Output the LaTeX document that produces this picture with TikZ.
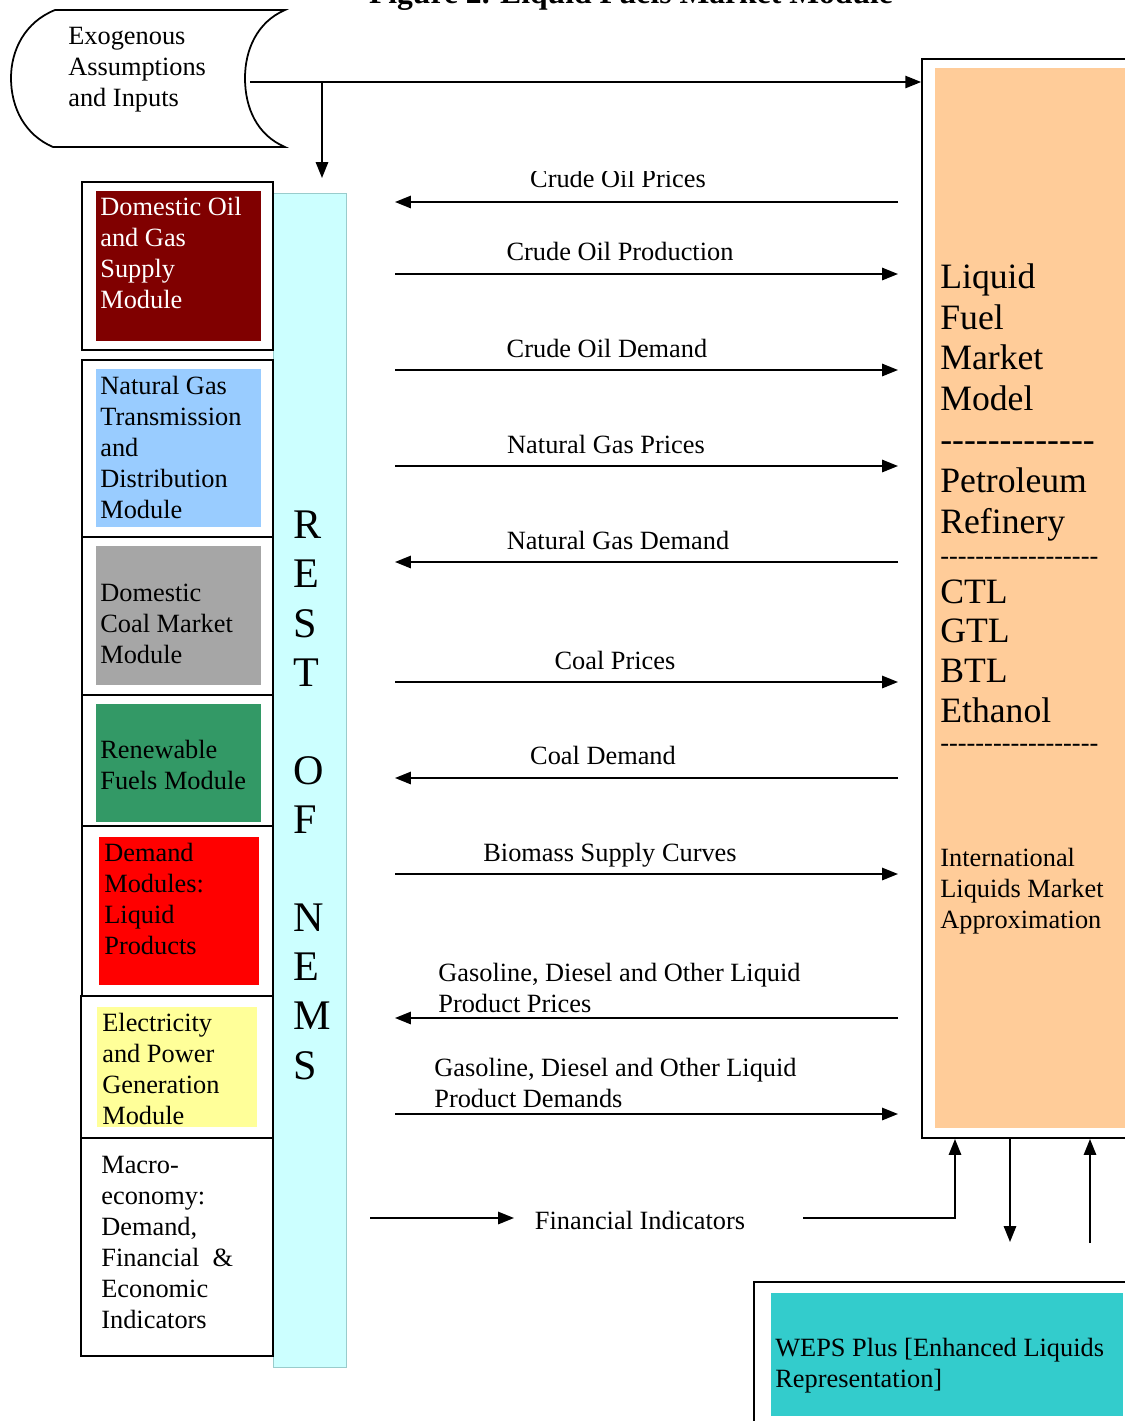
\documentclass[tikz,border=0pt]{standalone}
\usepackage{fontspec}
\setmainfont{Liberation Serif}
\usetikzlibrary{arrows.meta,fit}
\definecolor{oilred}{HTML}{800000}
\definecolor{gasblue}{HTML}{99CCFF}
\definecolor{coalgray}{HTML}{A6A6A6}
\definecolor{renewgreen}{HTML}{339966}
\definecolor{demandred}{HTML}{FF0000}
\definecolor{elecyellow}{HTML}{FFFF99}
\definecolor{restcyan}{HTML}{CCFFFF}
\definecolor{restedge}{HTML}{99CCCC}
\definecolor{lfmmpeach}{HTML}{FFCC99}
\definecolor{wepsteal}{HTML}{33CCCC}
\newcommand{\lblfont}{\fontsize{15}{17.6}\selectfont}
\newcommand{\bigfont}{\fontsize{20.3}{23.2}\selectfont}
\newcommand{\techfont}{\fontsize{20.3}{22.5}\selectfont}
\newcommand{\restfont}{\fontsize{24}{27.95}\selectfont}
\newcommand{\dsh}{\mbox{-}}
\newcommand{\dashrow}[1]{\foreach \k in {1,...,#1}{\dsh}}
\begin{document}
\begin{tikzpicture}[x=0.02cm,y=-0.02cm,
  frame/.style={draw=black,line width=1pt,inner sep=0pt},
  panel/.style={inner sep=0pt,draw=none},
  txt/.style={anchor=base west,inner sep=0pt,align=left,font=\lblfont},
  lbl/.style={anchor=base,inner sep=0pt,font=\lblfont},
  arr/.style={-{Triangle[length=9pt,width=7pt]},line width=1pt},
  plain/.style={line width=1pt}]
\useasboundingbox (0,0) rectangle (1125,1421);
% title (cut off at top)
\node[anchor=base,inner sep=0pt,font=\bfseries\fontsize{18}{21}\selectfont] (title) at (631,3) {Figure 2. Liquid Fuels Market Module};
% exogenous
\draw[line width=1pt] (55,10) -- (285,10)
  .. controls (257,22) and (245,50) .. (245,78)
  .. controls (245,108) and (257,135) .. (285,147)
  -- (53,147)
  .. controls (25,135) and (11,108) .. (11,78)
  .. controls (11,50) and (25,22) .. (55,10) -- cycle;
\node[txt] (exo) at (68,106) {Exogenous\\Assumptions\\and Inputs};
\coordinate (exo-out) at (250,82);
\coordinate (exo-branch) at (322,82);
\coordinate (rest-in) at (322,178);
% REST OF NEMS bar
\node[fit={(273,193) (346,1367)},panel,fill=restcyan,draw=restedge,line width=0.4pt] (rest) {};
\node[anchor=base west,inner sep=0pt,align=left,font=\restfont] (resttxt) at (293,1079) {R\\E\\S\\T\\ \\O\\F\\ \\N\\E\\M\\S};
% left modules
\node[fit={(82,182) (273,350)},frame] (box1) {};
\node[fit={(96,191) (261,341)},panel,fill=oilred] (oil) {};
\node[txt,text=white] (oiltxt) at (100,308) {Domestic Oil\\and Gas\\Supply\\Module};
\node[fit={(82,360) (273,537)},frame] (box2) {};
\node[fit={(96,369) (261,527)},panel,fill=gasblue] (gas) {};
\node[txt] (gastxt) at (100,518) {Natural Gas\\Transmission\\and\\Distribution\\Module};
\node[fit={(82,537) (273,695)},frame] (box3) {};
\node[fit={(96,546) (261,685)},panel,fill=coalgray] (coal) {};
\node[txt] (coaltxt) at (100,663) {Domestic\\Coal Market\\Module};
\node[fit={(82,695) (273,826)},frame] (box4) {};
\node[fit={(96,704) (261,822)},panel,fill=renewgreen] (renew) {};
\node[txt] (renewtxt) at (100,789) {Renewable\\Fuels Module};
\node[fit={(82,826) (273,996)},frame] (box5) {};
\node[fit={(99,837) (259,985)},panel,fill=demandred] (dem) {};
\node[txt] (demtxt) at (104,954) {Demand\\Modules:\\Liquid\\Products};
\node[fit={(81,996) (273,1138)},frame] (box6) {};
\node[fit={(97,1007) (257,1127)},panel,fill=elecyellow] (elec) {};
\node[txt] (electxt) at (102,1124) {Electricity\\and Power\\Generation\\Module};
\node[fit={(81,1138) (273,1356)},frame] (box7) {};
\node[txt] (macrotxt) at (101,1328) {Macro-\\economy:\\Demand,\\Financial~~\&\\Economic\\Indicators};
% LFMM
\node[fit={(922,59) (1145,1138)},frame] (lfmm) {};
\node[fit={(935,68) (1140,1128)},panel,fill=lfmmpeach] (peach) {};
\node[anchor=base west,inner sep=0pt,align=left,font=\bigfont] (lfmmtitle) at (940,533) {Liquid\\Fuel\\Market\\Model\\\dashrow{13}\\Petroleum\\Refinery};
\node[txt] (dash1) at (940,564) {\dashrow{18}};
\node[anchor=base west,inner sep=0pt,align=left,font=\techfont] (lfmmtech) at (940,722) {CTL\\GTL\\BTL\\Ethanol};
\node[txt] (dash2) at (940,751) {\dashrow{18}};
\node[txt] (intl) at (940,928) {International\\Liquids Market\\Approximation};
% WEPS
\node[fit={(754,1282) (1145,1440)},frame] (wepsframe) {};
\node[fit={(771,1293) (1123,1416)},panel,fill=wepsteal] (weps) {};
\node[txt] (wepstxt) at (775,1387) {WEPS Plus [Enhanced Liquids\\Representation]};
% exogenous arrows
\draw[arr] (exo-out) -- (exo-out -| lfmm.west);
\draw[arr] (exo-branch) -- (rest-in);
% flow arrows
\foreach \n/\y in {a/202,b/274,c/370,d/466,e/562,f/682,g/778,h/874,i/1018,j/1114}{
  \coordinate (\n-l) at (395,\y);
  \coordinate (\n-r) at (898,\y);
}
\begin{scope}
\clip (450,171) rectangle (800,200);
\node[lbl] (l-a) at (618,187) {Crude Oil Prices};
\end{scope}
\draw[arr] (a-r) -- (a-l);
\node[lbl] (l-b) at (620,260) {Crude Oil Production};
\draw[arr] (b-l) -- (b-r);
\node[lbl] (l-c) at (607,357) {Crude Oil Demand};
\draw[arr] (c-l) -- (c-r);
\node[lbl] (l-d) at (606,453) {Natural Gas Prices};
\draw[arr] (d-l) -- (d-r);
\node[lbl] (l-e) at (618,549) {Natural Gas Demand};
\draw[arr] (e-r) -- (e-l);
\node[lbl] (l-f) at (615,669) {Coal Prices};
\draw[arr] (f-l) -- (f-r);
\node[lbl] (l-g) at (603,764) {Coal Demand};
\draw[arr] (g-r) -- (g-l);
\node[lbl] (l-h) at (610,861) {Biomass Supply Curves};
\draw[arr] (h-l) -- (h-r);
\node[txt] (l-i) at (438,1012) {Gasoline, Diesel and Other Liquid\\Product Prices};
\draw[arr] (i-r) -- (i-l);
\node[txt] (l-j) at (434,1107) {Gasoline, Diesel and Other Liquid\\Product Demands};
\draw[arr] (j-l) -- (j-r);
% financial indicators
\coordinate (fin-a) at (370,1218);
\coordinate (fin-b) at (514,1218);
\coordinate (fin-c) at (803,1218);
\coordinate (fin-d) at (955,1139);
\node[lbl] (fin) at (640,1229) {Financial Indicators};
\draw[arr] (fin-a) -- (fin-b);
\draw[arr] (fin-c) -| (fin-d);
% LFMM <-> WEPS
\coordinate (down-a) at (1010,1139);
\coordinate (down-b) at (1010,1242);
\coordinate (up-a) at (1090,1243);
\coordinate (up-b) at (1090,1139);
\draw[arr] (down-a) -- (down-b);
\draw[arr] (up-a) -- (up-b);
\end{tikzpicture}
\end{document}
